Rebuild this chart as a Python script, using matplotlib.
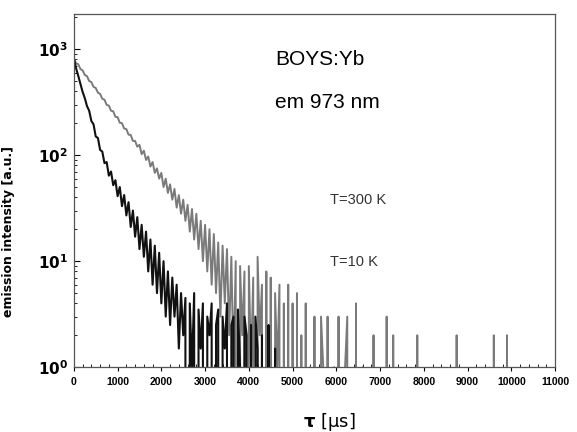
import numpy as np
import matplotlib
matplotlib.use("Agg")
import matplotlib.pyplot as plt
from matplotlib.ticker import MultipleLocator, LogLocator, NullFormatter

# decay traces, one sample every 50 us
step_us = 50

# T=300 K trace (grey, slower decay)
grey_vals = [
    810, 735, 720, 648, 630, 570, 556, 500, 488, 440,
    430, 388, 378, 340, 333, 298, 293, 262, 259, 230,
    228, 202, 200, 178, 176, 156, 155, 136, 136, 120,
    125, 102, 110, 90, 97, 78, 86, 68, 75, 60,
    68, 50, 60, 44, 53, 38, 48, 32, 42, 28,
    38, 24, 34, 19, 31, 16, 28, 13, 24, 10,
    22, 8, 20, 6, 18, 5, 15, 3, 14, 4,
    13, 2, 11, 1, 10, 0, 9, 2, 8, 0,
    9, 1, 7, 0, 11, 2, 6, 0, 8, 0,
    7, 0, 5, 1, 6, 0, 4, 0, 6, 0,
    4, 0, 5, 0, 2, 0, 4, 0, 1, 0,
    3, 0, 0, 3, 1, 0, 3, 0, 0, 1,
    0, 3, 0, 0, 1, 3, 0, 0, 0, 4,
    0, 0, 1, 0, 0, 0, 0, 2, 0, 0,
    0, 0, 0, 3, 0, 0, 2, 0, 0, 0,
    0, 0, 0, 0, 0, 0, 0, 2, 0, 0,
    0, 0, 0, 0, 0, 0, 0, 0, 0, 0,
    0, 0, 0, 0, 0, 2, 0, 0, 0, 0,
    0, 0, 0, 0, 0, 0, 0, 0, 0, 0,
    0, 0, 2, 0, 0, 0, 0, 0, 2, 0,
    0,
]

# T=10 K trace (black, faster decay)
black_vals = [
    820, 660, 560, 470, 395, 345, 290, 262, 210, 195,
    150, 145, 112, 108, 84, 86, 64, 70, 52, 58,
    41, 50, 33, 42, 27, 36, 21, 30, 17, 26,
    13, 22, 11, 19, 8, 16, 6, 14, 5, 12,
    4, 10, 3, 8, 2.5, 7, 3, 6, 1.5, 5,
    2, 4.5, 0, 4, 1, 5, 0, 3.5, 1.5, 4,
    0, 3, 2, 4, 0, 2.5, 3.5, 0, 3, 1.5,
    4, 0, 2.5, 3, 0, 3.5, 1, 0, 3, 2,
    0, 2.5, 0, 3, 1.5, 0, 2, 0, 0, 2.5,
    0, 0, 1.5, 0, 0, 0,
]

x_ticks = [0, 1000, 2000, 3000, 4000, 5000, 6000, 7000, 8000, 9000, 10000, 11000]
y_ticks = [1, 10, 100, 1000]
y_tick_labels = [r"$\mathbf{10^{0}}$", r"$\mathbf{10^{1}}$", r"$\mathbf{10^{2}}$", r"$\mathbf{10^{3}}$"]

t_grey = np.arange(len(grey_vals)) * step_us
t_black = np.arange(len(black_vals)) * step_us

fig = plt.figure(figsize=(5.77, 4.32), dpi=100)
ax = fig.add_axes([0.128, 0.150, 0.834, 0.818])

ax.plot(t_grey, grey_vals, color="#7a7a7a", linewidth=1.4)
ax.plot(t_black, black_vals, color="#111111", linewidth=1.5)

ax.set_yscale("log", nonpositive="clip")
ax.set_xlim(0, 11000)
ax.set_ylim(1, 2150)

ax.set_xticks(x_ticks)
ax.set_xticklabels([str(v) for v in x_ticks], fontsize=7.5, fontweight="bold",
                   family="Liberation Sans")
ax.xaxis.set_minor_locator(MultipleLocator(200))
ax.set_yticks(y_ticks)
ax.set_yticklabels(y_tick_labels, fontsize=11)
ax.yaxis.set_minor_locator(LogLocator(base=10, subs=np.arange(2, 10)))
ax.yaxis.set_minor_formatter(NullFormatter())

ax.tick_params(axis="x", which="major", direction="out", length=3, width=0.8, pad=4)
ax.tick_params(axis="x", which="minor", direction="in", length=2, width=0.6)
ax.tick_params(axis="y", which="major", direction="in", length=4, width=0.8, pad=4)
ax.tick_params(axis="y", which="minor", direction="in", length=2, width=0.6)

for sp in ax.spines.values():
    sp.set_color("#555555")
    sp.set_linewidth(0.9)

ax.set_xlabel(r"$\mathbf{\tau}$ [μs]", fontsize=13, family="DejaVu Sans")
ax.xaxis.set_label_coords(0.53, -0.125)
ax.set_ylabel("emission intensity [a.u.]", fontsize=9, fontweight="bold")
ax.yaxis.set_label_coords(-0.123, 0.385)

ax.text(0.418, 0.87, "BOYS:Yb", transform=ax.transAxes, fontsize=15,
        family="Liberation Sans", va="center")
ax.text(0.418, 0.75, "em 973 nm", transform=ax.transAxes, fontsize=15,
        family="Liberation Sans", va="center")
ax.text(0.532, 0.473, "T=300 K", transform=ax.transAxes, fontsize=10.5,
        family="Liberation Sans", va="center", color="#333333")
ax.text(0.532, 0.298, "T=10 K", transform=ax.transAxes, fontsize=10.5,
        family="Liberation Sans", va="center", color="#333333")

fig.savefig("out.png", dpi=100)
